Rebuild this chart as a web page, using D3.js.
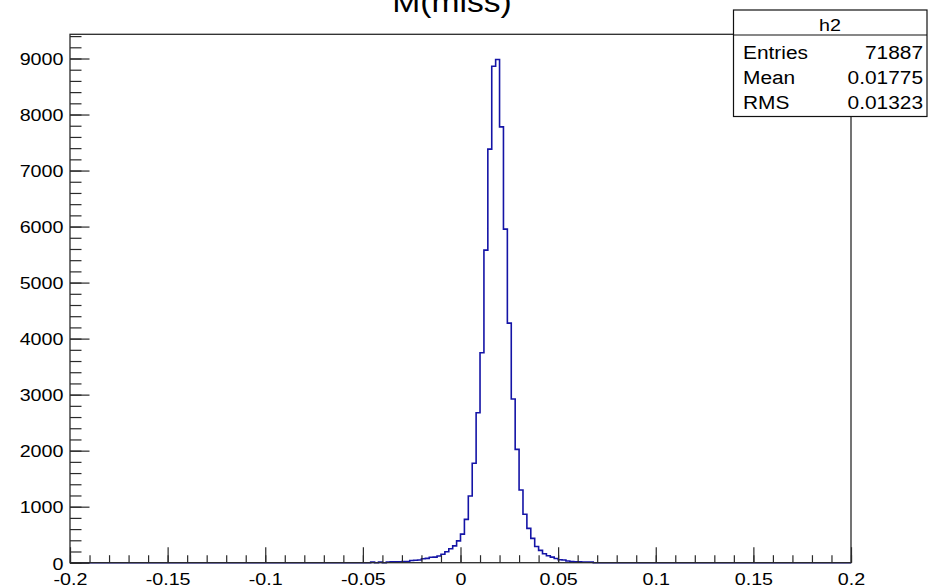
<!DOCTYPE html>
<html><head><meta charset="utf-8">
<script src="https://cdn.jsdelivr.net/npm/d3@7"></script>
<style>
html,body{margin:0;padding:0;background:#fff;}
text{font-family:"Liberation Sans",Arial,Helvetica,sans-serif;fill:#000;}
</style></head>
<body>
<svg id="c" width="928" height="587"></svg>
<script>
// ---- data ----
const title = "M(miss)";
const histName = "h2";
const xMin = -0.2, xMax = 0.2, nBins = 200;
const counts = [
  0,0,0,0,0,0,0,0,0,0,0,0,0,0,0,0,0,0,0,0,
  0,0,0,0,0,0,0,0,0,0,0,0,0,0,0,0,0,0,0,0,
  0,0,0,0,0,0,0,0,0,0,0,0,0,0,0,0,0,0,0,0,
  0,0,0,0,0,0,0,0,0,0,0,0,0,0,0,0,0,10,0,10,
  0,12,15,15,18,20,22,40,45,48,70,78,96,100,120,150,196,250,300,390,
  510,774,1190,1774,2677,3747,5580,7382,8863,8983,7780,5955,4277,2921,2023,1297,866,613,435,290,
  220,160,125,100,75,52,48,30,22,18,15,12,12,10,0,0,0,0,0,0,
  0,0,0,0,0,0,0,0,0,0,0,0,0,0,0,0,0,0,0,0,
  0,0,0,0,0,0,0,0,0,0,0,0,0,0,0,0,0,0,0,0,
  0,0,0,0,0,0,0,0,0,0,0,0,0,0,0,0,0,0,0,0
];
const xMajorTicks = [-0.2,-0.15,-0.1,-0.05,0,0.05,0.1,0.15,0.2];
const xTickLabels = ["-0.2","-0.15","-0.1","-0.05","0","0.05","0.1","0.15","0.2"];
const yMajorTicks = [0,1000,2000,3000,4000,5000,6000,7000,8000,9000];
const statLabels = ["Entries","Mean","RMS"];
const statValues = ["71887","0.01775","0.01323"];

// ---- layout ----
const SX = 1.16; // horizontal text stretch of the original
const L = 70, R = 851, T = 34.3, B = 562.7;
const svg = d3.select("#c");
svg.append("rect").attr("width",928).attr("height",587).attr("fill","#fff");

const yTop = d3.max(counts) * 1.05;
const x = d3.scaleLinear().domain([xMin, xMax]).range([L, R]);
const y = d3.scaleLinear().domain([0, yTop]).range([B, T]);

const binW = (xMax - xMin) / nBins;
const xMinor = d3.range(Math.round((xMax - xMin) / 0.01) + 1).map(i => +(xMin + i * 0.01).toFixed(4));
const yMinor = d3.range(0, yTop, 200);

// histogram outline
const pts = counts.map((c, i) => [xMin + i * binW, c]);
pts.push([xMax, counts[counts.length - 1]]);
svg.append("path")
  .attr("d", d3.line().x(d => x(d[0])).y(d => y(d[1])).curve(d3.curveStepAfter)(pts))
  .attr("fill","none").attr("stroke","#1414a6").attr("stroke-width",1.6);

// axes
const frameCol = "#2a2a2a";
const gxMinor = svg.append("g").attr("transform",`translate(0,${B})`)
  .call(d3.axisBottom(x).tickValues(xMinor).tickSize(-7.5).tickFormat(""));
const gx = svg.append("g").attr("transform",`translate(0,${B})`)
  .call(d3.axisBottom(x).tickValues(xMajorTicks).tickSize(-15.5).tickPadding(5)
        .tickFormat((d,i) => xTickLabels[i]));
const gyMinor = svg.append("g").attr("transform",`translate(${L},0)`)
  .call(d3.axisLeft(y).tickValues(yMinor).tickSize(-11.5).tickFormat(""));
const gy = svg.append("g").attr("transform",`translate(${L},0)`)
  .call(d3.axisLeft(y).tickValues(yMajorTicks).tickSize(-19.5).tickFormat(d3.format("d")));

[gxMinor,gx,gyMinor,gy].forEach(g => {
  g.select(".domain").remove();
  g.selectAll("line").attr("stroke",frameCol).attr("stroke-width",1.2);
});
gx.selectAll("text").attr("font-size",17).attr("fill","#000")
  .attr("y",null).attr("dy",null)
  .attr("transform",`translate(0,22) scale(${SX},1)`);
gy.selectAll("text").attr("font-size",17).attr("fill","#000")
  .attr("x",null).attr("dy",null)
  .attr("transform",`translate(-6.5,6.3) scale(${SX},1)`);

// frame
svg.append("rect").attr("x",L).attr("y",T).attr("width",R-L).attr("height",B-T)
  .attr("fill","none").attr("stroke",frameCol).attr("stroke-width",1.3);

// title
svg.append("text").attr("transform",`translate(452,11.5) scale(${SX},1)`)
  .attr("text-anchor","middle").attr("font-size",29).attr("fill","#111").text(title);

// stats box
const bx = 733.5, by = 10, bw = 193.5, bh = 106.5;
svg.append("rect").attr("x",bx).attr("y",by).attr("width",bw).attr("height",bh)
  .attr("fill","#fff").attr("stroke","#111").attr("stroke-width",1.2);
svg.append("line").attr("x1",bx).attr("x2",bx+bw).attr("y1",35).attr("y2",35)
  .attr("stroke","#111").attr("stroke-width",1.2);
svg.append("text").attr("transform",`translate(830,31) scale(${SX},1)`)
  .attr("text-anchor","middle").attr("font-size",17).text(histName);
statLabels.forEach((s,i) => {
  const yy = 58.5 + i * 25;
  svg.append("text").attr("transform",`translate(743,${yy}) scale(${SX},1)`)
    .attr("font-size",18).text(s);
  svg.append("text").attr("transform",`translate(923,${yy}) scale(${SX},1)`)
    .attr("text-anchor","end").attr("font-size",18).text(statValues[i]);
});
</script>
</body></html>
